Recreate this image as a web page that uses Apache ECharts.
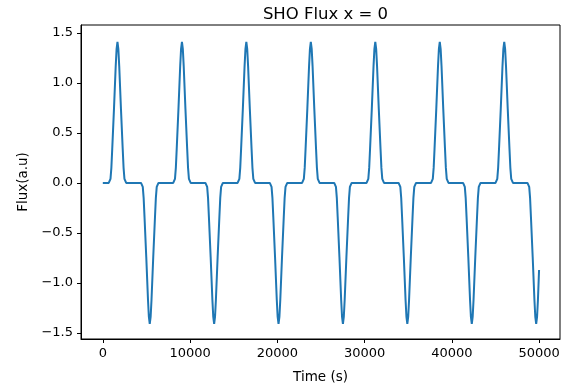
<!DOCTYPE html>
<html>
<head>
<meta charset="utf-8">
<script src="https://cdn.jsdelivr.net/npm/echarts@6/dist/echarts.min.js"></script>
<style>
html,body{margin:0;padding:0;background:#fff;}
#chart{width:565px;height:389px;}
</style>
</head>
<body>
<div id="chart"></div>
<script>
// Time (s) samples
const time = [
  0,
  680, 880, 980, 1080, 1280, 1480, 1580, 1680, 1780, 1880, 2080, 2280, 2380, 2480, 2680,
  4380, 4580, 4680, 4780, 4980, 5180, 5280, 5380, 5480, 5580, 5780, 5980, 6080, 6180, 6380,
  8070, 8270, 8370, 8470, 8670, 8870, 8970, 9070, 9170, 9270, 9470, 9670, 9770, 9870, 10070,
  11760, 11960, 12060, 12160, 12360, 12560, 12660, 12760, 12860, 12960, 13160, 13360, 13460, 13560, 13760,
  15450, 15650, 15750, 15850, 16050, 16250, 16350, 16450, 16550, 16650, 16850, 17050, 17150, 17250, 17450,
  19140, 19340, 19440, 19540, 19740, 19940, 20040, 20140, 20240, 20340, 20540, 20740, 20840, 20940, 21140,
  22840, 23040, 23140, 23240, 23440, 23640, 23740, 23840, 23940, 24040, 24240, 24440, 24540, 24640, 24840,
  26520, 26720, 26820, 26920, 27120, 27320, 27420, 27520, 27620, 27720, 27920, 28120, 28220, 28320, 28520,
  30230, 30430, 30530, 30630, 30830, 31030, 31130, 31230, 31330, 31430, 31630, 31830, 31930, 32030, 32230,
  33900, 34100, 34200, 34300, 34500, 34700, 34800, 34900, 35000, 35100, 35300, 35500, 35600, 35700, 35900,
  37620, 37820, 37920, 38020, 38220, 38420, 38520, 38620, 38720, 38820, 39020, 39220, 39320, 39420, 39620,
  41290, 41490, 41590, 41690, 41890, 42090, 42190, 42290, 42390, 42490, 42690, 42890, 42990, 43090, 43290,
  45010, 45210, 45310, 45410, 45610, 45810, 45910, 46010, 46110, 46210, 46410, 46610, 46710, 46810, 47010,
  48670, 48870, 48970, 49070, 49270, 49470, 49570, 49670, 49770, 49870, 50000
];
// Flux (a.u) values
const flux = [
  0,
  0, 0.04, 0.15, 0.34, 0.74, 1.17, 1.34, 1.41, 1.34, 1.17, 0.74, 0.34, 0.15, 0.04, 0,
  0, -0.04, -0.15, -0.34, -0.74, -1.17, -1.34, -1.41, -1.34, -1.17, -0.74, -0.34, -0.15, -0.04, 0,
  0, 0.04, 0.15, 0.34, 0.74, 1.17, 1.34, 1.41, 1.34, 1.17, 0.74, 0.34, 0.15, 0.04, 0,
  0, -0.04, -0.15, -0.34, -0.74, -1.17, -1.34, -1.41, -1.34, -1.17, -0.74, -0.34, -0.15, -0.04, 0,
  0, 0.04, 0.15, 0.34, 0.74, 1.17, 1.34, 1.41, 1.34, 1.17, 0.74, 0.34, 0.15, 0.04, 0,
  0, -0.04, -0.15, -0.34, -0.74, -1.17, -1.34, -1.41, -1.34, -1.17, -0.74, -0.34, -0.15, -0.04, 0,
  0, 0.04, 0.15, 0.34, 0.74, 1.17, 1.34, 1.41, 1.34, 1.17, 0.74, 0.34, 0.15, 0.04, 0,
  0, -0.04, -0.15, -0.34, -0.74, -1.17, -1.34, -1.41, -1.34, -1.17, -0.74, -0.34, -0.15, -0.04, 0,
  0, 0.04, 0.15, 0.34, 0.74, 1.17, 1.34, 1.41, 1.34, 1.17, 0.74, 0.34, 0.15, 0.04, 0,
  0, -0.04, -0.15, -0.34, -0.74, -1.17, -1.34, -1.41, -1.34, -1.17, -0.74, -0.34, -0.15, -0.04, 0,
  0, 0.04, 0.15, 0.34, 0.74, 1.17, 1.34, 1.41, 1.34, 1.17, 0.74, 0.34, 0.15, 0.04, 0,
  0, -0.04, -0.15, -0.34, -0.74, -1.17, -1.34, -1.41, -1.34, -1.17, -0.74, -0.34, -0.15, -0.04, 0,
  0, 0.04, 0.15, 0.34, 0.74, 1.17, 1.34, 1.41, 1.34, 1.17, 0.74, 0.34, 0.15, 0.04, 0,
  0, -0.04, -0.15, -0.34, -0.74, -1.17, -1.34, -1.41, -1.34, -1.17, -0.87
];
const xTicks = [0, 10000, 20000, 30000, 40000, 50000];
const yTicks = [-1.5, -1.0, -0.5, 0.0, 0.5, 1.0, 1.5];
const titleText = 'SHO Flux x = 0';
const xName = 'Time (s)';
const yName = 'Flux(a.u)';

const points = time.map((t, i) => [t, flux[i]]);
const font = 'DejaVu Sans';

const chart = echarts.init(document.getElementById('chart'), null, {renderer: 'canvas'});
chart.setOption({
  animation: false,
  backgroundColor: '#fff',
  title: {
    text: titleText,
    left: 320.5,
    textAlign: 'center',
    top: 1,
    textStyle: {fontFamily: font, fontSize: 16.5, fontWeight: 'normal', color: '#000'}
  },
  grid: {
    left: 81, right: 5, top: 25, bottom: 48,
    show: true, borderColor: '#000', borderWidth: 1, backgroundColor: '#fff'
  },
  xAxis: {
    type: 'value',
    min: -2500, max: 52400,
    name: xName,
    nameLocation: 'middle',
    nameGap: 31,
    nameTextStyle: {fontFamily: font, fontSize: 13.5, color: '#000'},
    axisLine: {show: true, onZero: false, lineStyle: {color: '#000', width: 1}},
    axisTick: {show: true, length: 4, lineStyle: {color: '#000'}, customValues: xTicks},
    axisLabel: {fontFamily: font, fontSize: 13, color: '#000', margin: 8, customValues: xTicks,
      formatter: v => String(v)},
    splitLine: {show: false}
  },
  yAxis: {
    type: 'value',
    min: -1.56, max: 1.578,
    name: yName,
    nameLocation: 'middle',
    nameRotate: 90,
    nameGap: 50,
    nameTextStyle: {fontFamily: font, fontSize: 13.5, color: '#000'},
    axisLine: {show: true, onZero: false, lineStyle: {color: '#000', width: 1}},
    axisTick: {show: true, length: 4, lineStyle: {color: '#000'}, customValues: yTicks},
    axisLabel: {fontFamily: font, fontSize: 13, color: '#000', margin: 8, customValues: yTicks,
      formatter: v => (v < 0 ? '\u2212' : '') + Math.abs(v).toFixed(1)},
    splitLine: {show: false}
  },
  series: [{
    type: 'line',
    data: points,
    showSymbol: false,
    smooth: false,
    lineStyle: {color: '#1f77b4', width: 2},
    itemStyle: {color: '#1f77b4'}
  }]
});
</script>
</body>
</html>
